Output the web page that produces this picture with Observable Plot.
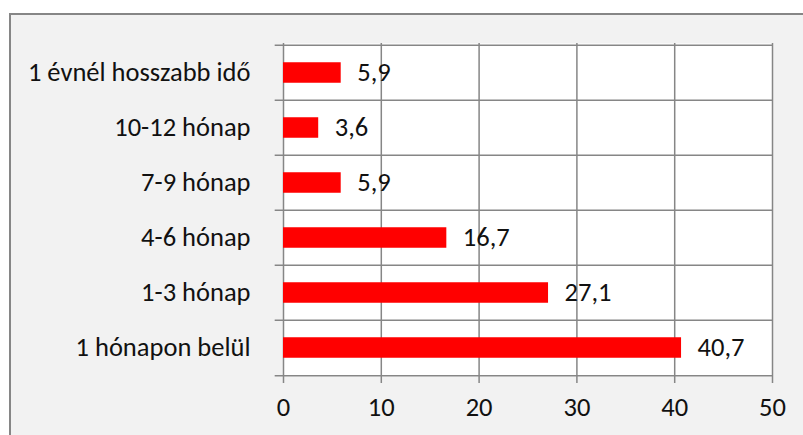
<!DOCTYPE html>
<html>
<head>
<meta charset="utf-8">
<script src="https://cdn.jsdelivr.net/npm/d3@7"></script>
<script src="https://cdn.jsdelivr.net/npm/@observablehq/plot@0.6"></script>
<style>
  html, body { margin: 0; padding: 0; background: #ffffff; }
  #wrap { position: relative; width: 803px; height: 435px; overflow: hidden; }
  #panel { position: absolute; left: 9px; top: 13px; width: 820px; height: 460px;
           background: #f2f2f2; border-left: 2px solid #868686; border-top: 2px solid #868686; }
  #chart { position: absolute; left: 0; top: 0; }
</style>
</head>
<body>
<div id="wrap"><div id="panel"></div><div id="chart"></div></div>
<script>
const categories = ["1 évnél hosszabb idő", "10-12 hónap", "7-9 hónap", "4-6 hónap", "1-3 hónap", "1 hónapon belül"];
const values = [5.9, 3.6, 5.9, 16.7, 27.1, 40.7];
const xTicks = [0, 10, 20, 30, 40, 50];
const valueLabels = ["5,9", "3,6", "5,9", "16,7", "27,1", "40,7"];

const rows = categories.map((c, i) => ({category: c, value: values[i], label: valueLabels[i]}));

const W = 803, H = 435, mt = 43, mb = 59, ml = 283, mr = 31;
const band = (H - mt - mb) / categories.length;
const barH = 21;
const inset = (band - barH) / 2;
const grid = "#868686";
const fs = 26.5;

const chart = Plot.plot({
  width: W, height: H,
  marginLeft: ml, marginRight: mr, marginTop: mt, marginBottom: mb,
  style: {background: "transparent", fontFamily: "Carlito, Calibri, Lato, sans-serif", fontSize: fs + "px", color: "#000"},
  x: {domain: [0, 50], ticks: xTicks, label: null},
  y: {domain: categories, padding: 0, label: null},
  marks: [
    Plot.frame({fill: "white", stroke: null}),
    Plot.gridX(xTicks, {stroke: grid, strokeOpacity: 1, strokeWidth: 1.5}),
    Plot.ruleY(categories, {y: d => d, x1: -0.85, x2: 50, dy: -band / 2, stroke: grid, strokeWidth: 1.5}),
    Plot.ruleY([categories[categories.length - 1]], {y: d => d, x1: -0.85, x2: 50, dy: band / 2, stroke: grid, strokeWidth: 1.5}),
    Plot.barX(rows, {x: "value", y: "category", fill: "#ff0000", insetTop: inset, insetBottom: inset}),
    Plot.text(rows, {x: "value", y: "category", text: "label", textAnchor: "start", dx: 16, fill: "#111", fontSize: fs}),
    Plot.axisX({ticks: xTicks, tickSize: 7, tickPadding: 14, stroke: grid, strokeWidth: 1.5, strokeOpacity: 1, tickFormat: d => String(d), fill: "#111", fontSize: fs, label: null}),
    Plot.axisY({tickSize: 0, tickPadding: 33, fill: "#111", fontSize: fs, label: null})
  ]
});
document.getElementById("chart").appendChild(chart);
</script>
</body>
</html>
